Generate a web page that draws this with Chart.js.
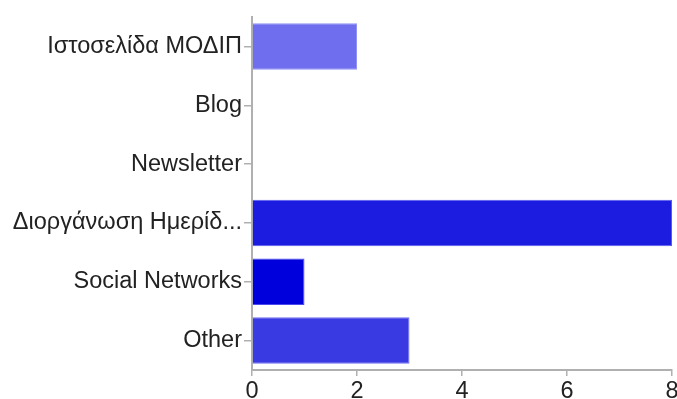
<!DOCTYPE html>
<html>
<head>
<meta charset="utf-8">
<script src="https://cdn.jsdelivr.net/npm/chart.js@4.4.1/dist/chart.umd.min.js"></script>
<style>
    html, body { margin: 0; padding: 0; background: #fff; }
    #wrap { width: 677px; height: 399px; }
</style>
</head>
<body>
<div id="wrap"><canvas id="sourcesChart"></canvas></div>
<script>
const categories = ["Ιστοσελίδα ΜΟΔΙΠ", "Blog", "Newsletter", "Διοργάνωση Ημερίδ...", "Social Networks", "Other"];
const counts = [2, 0, 0, 8, 1, 3];
const barColors = ["#6e6eee", "#6e6eee", "#6e6eee", "#1c1ce0", "#0000dc", "#3a3ae2"];
const edgeColors = ["#9292f4", "#9292f4", "#9292f4", "#5a5af0", "#4a4aee", "#7070f0"];
const xTicks = [0, 2, 4, 6, 8];

const axisGray = "#b0b0b0";
const labelFont = { family: "'Liberation Sans', Arial, sans-serif", size: 23.5 };

const el = document.getElementById("sourcesChart");
const ctx = el.getContext("2d");

new Chart(ctx, {
    type: "bar",
    data: {
        labels: categories,
        datasets: [{
            data: counts,
            backgroundColor: barColors,
            borderColor: edgeColors,
            borderWidth: 1,
            categoryPercentage: 1,
            barPercentage: 0.79
        }]
    },
    options: {
        indexAxis: "y",
        responsive: true,
        maintainAspectRatio: false,
        animation: false,
        layout: { autoPadding: false, padding: { top: 17, right: 5, left: 0, bottom: 0 } },
        plugins: {
            legend: { display: false },
            tooltip: { enabled: false }
        },
        scales: {
            x: {
                min: 0,
                max: 8,
                afterBuildTicks: (scale) => { scale.ticks = xTicks.map(v => ({ value: v })); },
                afterFit: (scale) => {
                    scale.height = 29;
                    // let the end labels overhang instead of shrinking the plot
                    scale.paddingLeft = 0;
                    scale.paddingRight = 0;
                },
                grid: { drawOnChartArea: false, drawTicks: true, tickLength: 6, color: axisGray, lineWidth: 1.5 },
                border: { color: axisGray, width: 2 },
                ticks: { color: "#222", font: labelFont, padding: 1 }
            },
            y: {
                afterFit: (scale) => { scale.width = 252; },
                grid: { offset: false, drawOnChartArea: false, drawTicks: true, tickLength: 8, color: axisGray, lineWidth: 1.5 },
                border: { color: axisGray, width: 2 },
                ticks: { color: "#222", font: labelFont, padding: 2 }
            }
        }
    }
});
</script>
</body>
</html>
